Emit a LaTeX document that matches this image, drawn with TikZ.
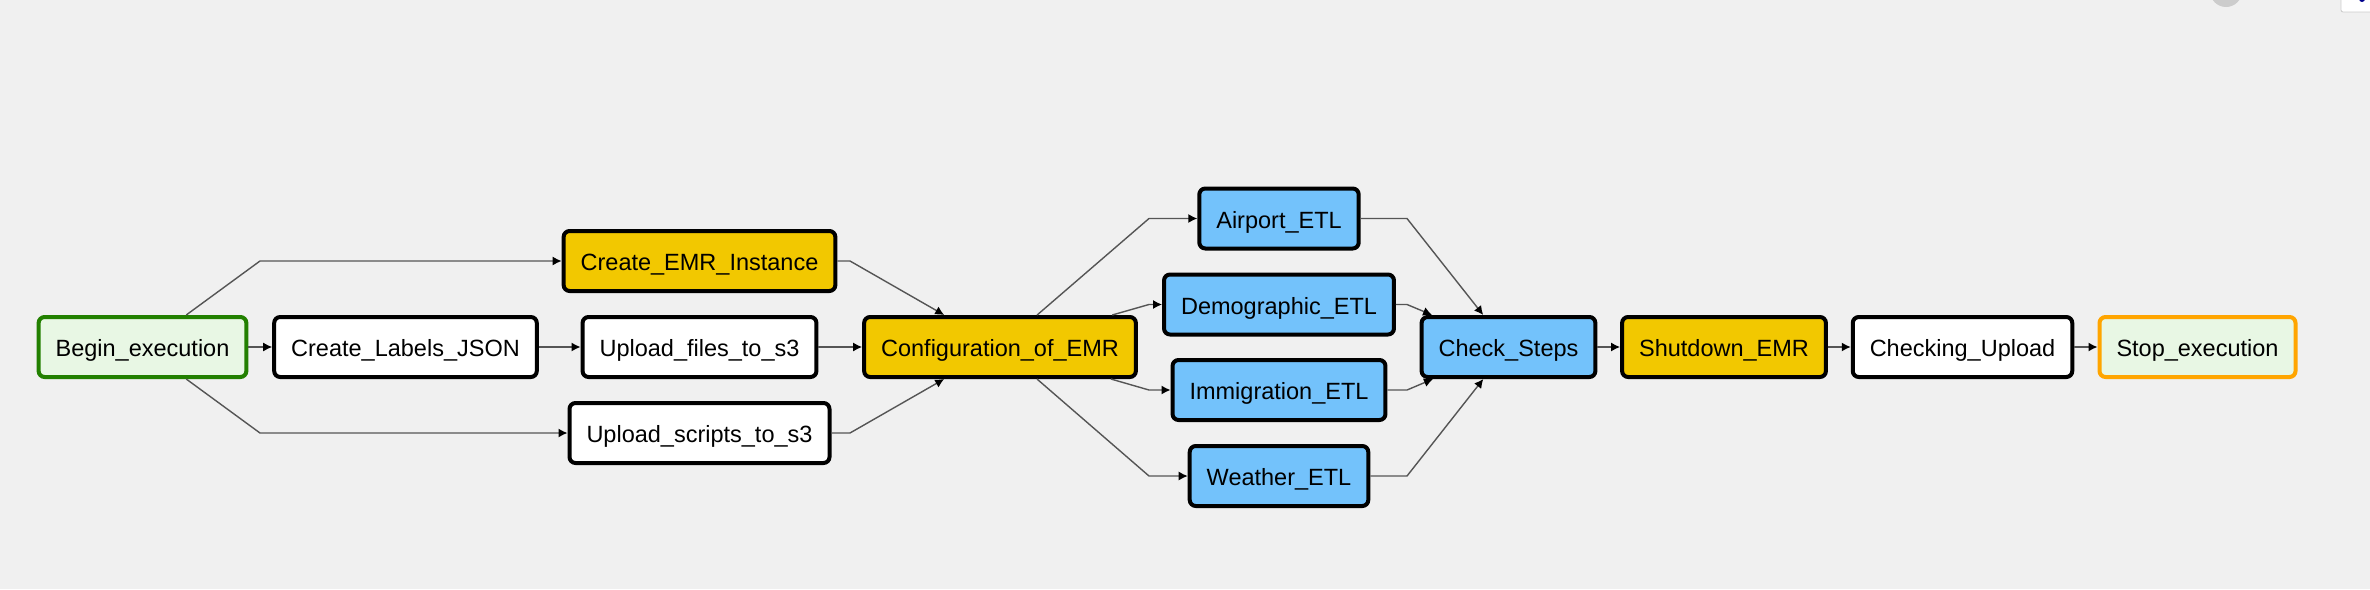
\documentclass[tikz,border=0pt]{standalone}
\usepackage{fontspec}
\setmainfont{Liberation Sans}
\usetikzlibrary{arrows.meta}
\definecolor{bggrey}{HTML}{F0F0F0}
\definecolor{dummyfill}{HTML}{E8F7E4}
\definecolor{successgreen}{HTML}{228000}
\definecolor{failorange}{HTML}{FFA500}
\definecolor{emryellow}{HTML}{F2C800}
\definecolor{etlblue}{HTML}{73C2FB}
\definecolor{edgegrey}{HTML}{555555}
\tikzstyle{task} = [rectangle, rounded corners=3pt, minimum height=30pt, inner xsep=8.5pt, inner ysep=0pt, text height=9.5pt, text depth=0pt, text centered, draw=black, line width=2pt, fill=white, font=\fontsize{11.75}{14}\selectfont]
\tikzstyle{dummy} = [task, fill=dummyfill]
\tikzstyle{emrtask} = [task, fill=emryellow]
\tikzstyle{etltask} = [task, fill=etlblue]
\tikzstyle{arrow} = [line width=0.7pt, draw=edgegrey, -{Latex[length=4.5pt, width=4.5pt, color=black]}]

\begin{document}
\begin{tikzpicture}[x=0.5pt, y=-0.5pt, node distance=43pt]

\fill [bggrey] (0,0) rectangle (2370,589);
\useasboundingbox (0,0) rectangle (2370,589);

% bits of the page toolbar, top right
\fill [gray!40] (2226,-9) circle [radius=8pt];
\draw [gray!40, fill=white, rounded corners=1pt] (2341,-5) rectangle (2375,12);
\fill [blue!55!black] (2362,-1) circle [radius=1.5pt];

\node (begin) [dummy, draw=successgreen] at (142.5,347) {Begin\_execution};
\node (labels) [task] at (405.5,347) {Create\_Labels\_JSON};
\node (files) [task] at (699.5,347) {Upload\_files\_to\_s3};
\node (emr) [emrtask, above of=files] {Create\_EMR\_Instance};
\node (scripts) [task, below of=files] {Upload\_scripts\_to\_s3};
\node (config) [emrtask] at (1000,347) {Configuration\_of\_EMR};
\node (demo) [etltask] at (1279,304.5) {Demographic\_ETL};
\node (airport) [etltask, above of=demo] {Airport\_ETL};
\node (immig) [etltask] at (1279,390) {Immigration\_ETL};
\node (weather) [etltask, below of=immig] {Weather\_ETL};
\node (check) [etltask] at (1508.5,347) {Check\_Steps};
\node (shutdown) [emrtask] at (1724,347) {Shutdown\_EMR};
\node (upload) [task] at (1962.5,347) {Checking\_Upload};
\node (stop) [dummy, draw=failorange] at (2197.5,347) {Stop\_execution};

% bend points of the edges
\coordinate (b1) at (260,261);
\coordinate (b2) at (260,433);
\coordinate (b3) at (850,261);
\coordinate (b4) at (850,433);
\coordinate (c1) at (1149,218.5);
\coordinate (c2) at (1149,304.5);
\coordinate (c3) at (1149,390);
\coordinate (c4) at (1149,476);
\coordinate (d1) at (1407,218.5);
\coordinate (d2) at (1407,304.5);
\coordinate (d3) at (1407,390);
\coordinate (d4) at (1407,476);

\draw [arrow] (begin) -- (labels);
\draw [arrow] (begin) -- (b1) -- (emr);
\draw [arrow] (begin) -- (b2) -- (scripts);
\draw [arrow] (labels) -- (files);
\draw [arrow] (files) -- (config);
\draw [arrow] (emr) -- (b3) -- (config);
\draw [arrow] (scripts) -- (b4) -- (config);
\draw [arrow] (config) -- (c1) -- (airport);
\draw [arrow] (config) -- (c2) -- (demo);
\draw [arrow] (config) -- (c3) -- (immig);
\draw [arrow] (config) -- (c4) -- (weather);
\draw [arrow] (airport) -- (d1) -- (check);
\draw [arrow] (demo) -- (d2) -- (check);
\draw [arrow] (immig) -- (d3) -- (check);
\draw [arrow] (weather) -- (d4) -- (check);
\draw [arrow] (check) -- (shutdown);
\draw [arrow] (shutdown) -- (upload);
\draw [arrow] (upload) -- (stop);

\end{tikzpicture}
\end{document}
